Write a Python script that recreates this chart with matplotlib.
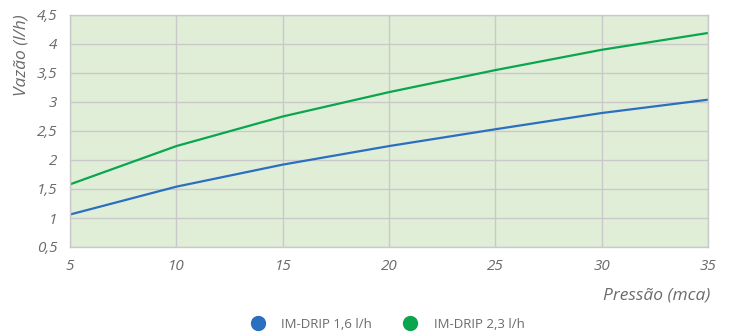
import matplotlib
matplotlib.use("Agg")
import matplotlib.pyplot as plt
from matplotlib.lines import Line2D

# Flow vs pressure curves for the two emitters
pressao = [5, 10, 15, 20, 25, 30, 35]
vazao_16 = [1.06, 1.54, 1.92, 2.24, 2.53, 2.81, 3.04]
vazao_23 = [1.58, 2.24, 2.75, 3.17, 3.55, 3.90, 4.19]
series_labels = ["IM-DRIP 1,6 l/h", "IM-DRIP 2,3 l/h"]
x_ticks = [5, 10, 15, 20, 25, 30, 35]
y_ticks = [0.5, 1, 1.5, 2, 2.5, 3, 3.5, 4, 4.5]

BLUE = "#2a6fc0"
GREEN = "#0aa64e"
TEXT = "#6b6b6b"
GRID = "#c9c9c9"

plt.rcParams["font.family"] = ["Open Sans", "DejaVu Sans"]

fig = plt.figure(figsize=(7.3, 3.35), dpi=100)
ax = fig.add_axes([70 / 730, 88 / 335, 638 / 730, 232 / 335])
ax.set_facecolor("#e0eed8")

ax.plot(pressao, vazao_16, color=BLUE, linewidth=1.6, solid_capstyle="butt")
ax.plot(pressao, vazao_23, color=GREEN, linewidth=1.6, solid_capstyle="butt")

ax.set_xlim(5, 35)
ax.set_ylim(0.5, 4.5)
ax.set_xticks(x_ticks)
ax.set_yticks(y_ticks)
ax.set_xticklabels([str(v) for v in x_ticks], fontstyle="italic", fontsize=11, color=TEXT)
ax.set_yticklabels([f"{v:g}".replace(".", ",") for v in y_ticks],
                   fontstyle="italic", fontsize=11, color=TEXT)
ax.tick_params(length=0, pad=9)
ax.tick_params(axis="x", pad=9)
ax.grid(True, color=GRID, linewidth=1.0)
ax.set_axisbelow(True)
for s in ax.spines.values():
    s.set_color(GRID)
    s.set_linewidth(1.0)

fig.text(710 / 730, 1 - 295 / 335, "Pressão (mca)", ha="right", va="center",
         fontstyle="italic", fontsize=12.5, color=TEXT)
fig.text(21 / 730, 1 - 55 / 335, "Vazão (l/h)", ha="center", va="center",
         rotation=90, fontstyle="italic", fontsize=12.5, color=TEXT)

# Legend along the bottom
handles = [Line2D([], [], linestyle="none", marker="o", markersize=10,
                  markerfacecolor=c, markeredgecolor=c) for c in (BLUE, GREEN)]
fig.legend(handles, series_labels, loc="center", bbox_to_anchor=(388 / 730, 1 - 324 / 335),
           ncol=2, frameon=False, fontsize=9.5, labelcolor=TEXT,
           handletextpad=1.3, columnspacing=2.4, handlelength=1.0)

fig.savefig("out.png", dpi=100)
